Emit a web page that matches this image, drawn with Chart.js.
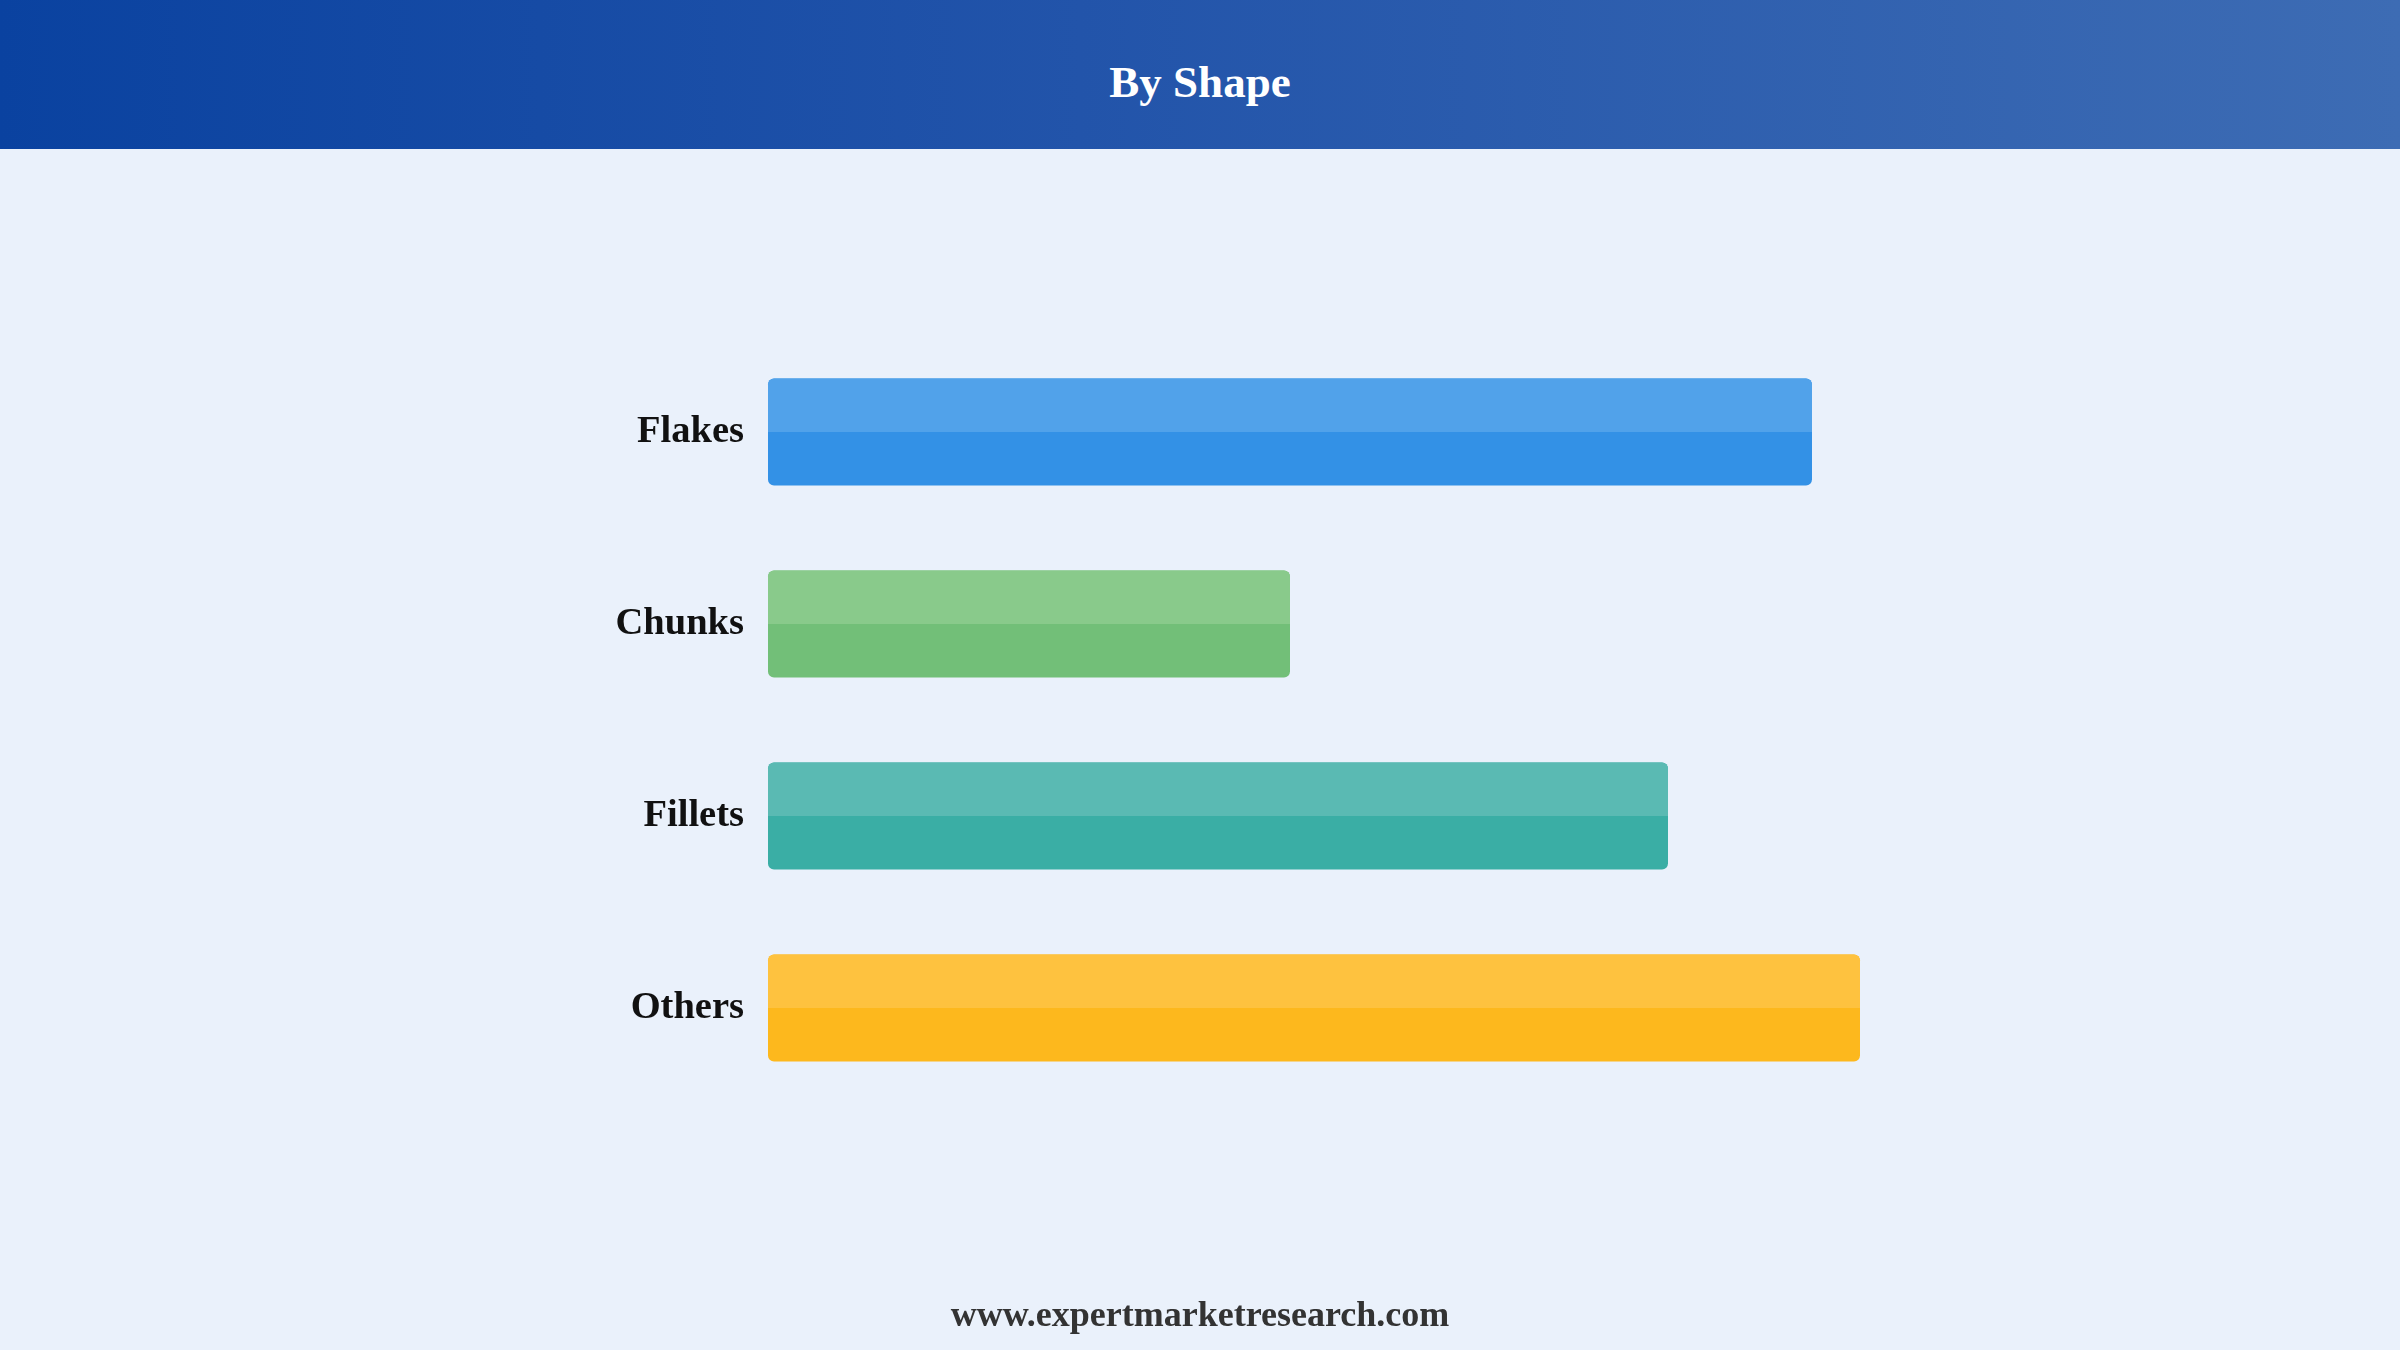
<!DOCTYPE html>
<html>
<head>
<meta charset="utf-8">
<script src="https://cdn.jsdelivr.net/npm/chart.js@4.4.0/dist/chart.umd.min.js"></script>
<style>
  html, body { margin: 0; padding: 0; width: 2400px; height: 1350px; overflow: hidden; background: #eaf1fb; }
  #header {
    position: absolute; left: 0; top: 0; width: 2400px; height: 149px;
    background: linear-gradient(to right, #0a42a0 0%, #2254aa 45%, #3d6cb4 100%);
  }
  #title {
    position: absolute; left: 0; top: 0; width: 2400px; height: 149px;
    text-align: center; color: #ffffff; font: bold 45px 'Liberation Serif', 'Times New Roman', serif;
    line-height: 1;
  }
  #title span { position: absolute; left: 0; right: 0; top: 60px; }
  #footer {
    position: absolute; left: 0; width: 2400px; top: 1293px; text-align: center;
    color: #333333; font: bold 36px 'Liberation Serif', 'Times New Roman', serif;
  }
  #wrap { position: absolute; left: 0; top: 0; width: 2400px; height: 1350px; }
</style>
</head>
<body>
<div id="header"></div>
<div id="title"><span>By Shape</span></div>
<div id="wrap"><canvas id="c"></canvas></div>
<div id="footer">www.expertmarketresearch.com</div>
<script>
const categories = ["Flakes", "Chunks", "Fillets", "Others"];
const values = [87, 43.5, 75, 91];
const darkColors = ["#3391e6", "#72bf78", "#3aaea5", "#fdb81d"];
const lightColors = ["#51a2ea", "#89ca8b", "#5abab3", "#fec23f"];

const halfTone = {
  id: 'halfTone',
  afterDatasetsDraw(chart) {
    const ctx = chart.ctx;
    const meta = chart.getDatasetMeta(0);
    meta.data.forEach((el, i) => {
      const p = el.getProps(['x', 'y', 'base', 'height'], true);
      const left = Math.min(p.base, p.x);
      const right = Math.max(p.base, p.x);
      const top = p.y - p.height / 2;
      const h = p.height / 2;
      const r = 6;
      ctx.save();
      ctx.fillStyle = lightColors[i];
      ctx.beginPath();
      ctx.roundRect(left, top, right - left, h, [r, r, 0, 0]);
      ctx.fill();
      ctx.restore();
    });
  }
};

new Chart(document.getElementById('c'), {
  type: 'bar',
  data: {
    labels: categories,
    datasets: [{
      data: values,
      backgroundColor: darkColors,
      borderRadius: 6,
      borderSkipped: false,
      borderWidth: 0,
      categoryPercentage: 1,
      barPercentage: 0.557
    }]
  },
  options: {
    indexAxis: 'y',
    responsive: true,
    maintainAspectRatio: false,
    animation: false,
    layout: { padding: { top: 336, bottom: 246, left: 0, right: 432 } },
    plugins: { legend: { display: false }, tooltip: { enabled: false }, title: { display: false } },
    scales: {
      x: { display: false, min: 0, max: 100 },
      y: {
        grid: { display: false, drawTicks: false, tickLength: 0 },
        border: { display: false },
        ticks: {
          padding: 24,
          color: '#111111',
          font: { family: "'Liberation Serif', 'Times New Roman', serif", size: 38.5, weight: 'bold', lineHeight: 1.0 }
        },
        afterFit(scale) { scale.width = 768; }
      }
    }
  },
  plugins: [halfTone]
});
</script>
</body>
</html>
